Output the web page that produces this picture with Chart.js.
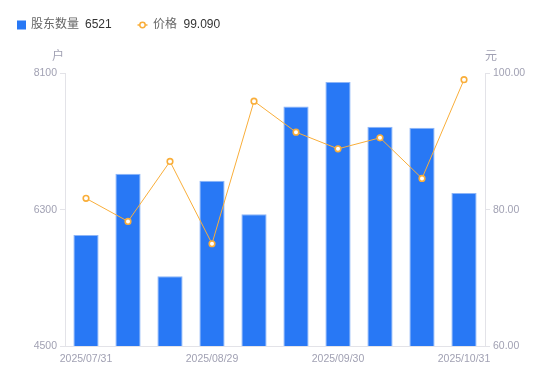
<!DOCTYPE html>
<html>
<head>
<meta charset="utf-8">
<script src="https://cdn.jsdelivr.net/npm/chart.js@4"></script>
<style>
html,body{margin:0;padding:0;background:#fff;}
#wrap{width:550px;height:381px;position:relative;}
</style>
</head>
<body>
<div id="wrap"><canvas id="c" width="550" height="381"></canvas></div>
<script>
const categories = ['2025/07/31','2025/08/08','2025/08/20','2025/08/29','2025/09/10','2025/09/19','2025/09/30','2025/10/10','2025/10/20','2025/10/31'];
const holders = [5965, 6774, 5420, 6682, 6242, 7664, 7989, 7395, 7382, 6521];
const prices = [81.67, 78.29, 87.09, 75.01, 95.94, 91.39, 88.94, 90.56, 84.60, 99.09];
const leftTicks = [4500, 6300, 8100];
const rightTicks = [60, 80, 100];
const seriesNames = ['股东数量', '价格'];
const unitLeft = '户';
const unitRight = '元';

const BLUE = '#2878F5';
const ORANGE = '#F9AE3A';
const TICK = '#a1a1b3';
const AXIS = '#e3e3e8';
const FONT = '"Liberation Sans", "Noto Sans CJK SC", Arial, sans-serif';

const overlay = {
  id: 'overlay',
  afterDraw(chart) {
    const ctx = chart.ctx;
    const yl = chart.scales.y, yr = chart.scales.y1;
    ctx.save();
    ctx.textBaseline = 'middle';
    // units
    ctx.font = '12px ' + FONT;
    ctx.fillStyle = TICK;
    ctx.textAlign = 'right';
    ctx.fillText(unitLeft, yl.right - 1, 57);
    ctx.textAlign = 'left';
    ctx.fillText(unitRight, yr.left + 0, 57);
    // legend
    ctx.textAlign = 'left';
    ctx.fillStyle = BLUE;
    ctx.fillRect(17, 20.5, 9, 9);
    ctx.font = '12px ' + FONT;
    ctx.fillStyle = '#666';
    ctx.fillText(seriesNames[0], 31, 25);
    ctx.fillStyle = '#333';
    ctx.fillText(String(holders[holders.length - 1]), 85, 25);
    ctx.strokeStyle = ORANGE;
    ctx.lineWidth = 1.5;
    ctx.beginPath(); ctx.moveTo(137.5, 25); ctx.lineTo(147.5, 25); ctx.stroke();
    ctx.fillStyle = '#fff';
    ctx.beginPath(); ctx.arc(142.5, 25, 2.7, 0, Math.PI * 2); ctx.fill(); ctx.stroke();
    ctx.fillStyle = '#666';
    ctx.fillText(seriesNames[1], 153, 25);
    ctx.fillStyle = '#333';
    ctx.fillText(prices[prices.length - 1].toFixed(3), 183.5, 25);
    ctx.restore();
  }
};

new Chart(document.getElementById('c'), {
  data: {
    labels: categories,
    datasets: [
      {
        type: 'line', label: seriesNames[1], data: prices, yAxisID: 'y1',
        borderColor: ORANGE, borderWidth: 1, tension: 0,
        pointRadius: 2.8, pointBorderWidth: 1.6, pointBackgroundColor: '#fff', pointBorderColor: ORANGE,
        order: 0
      },
      {
        type: 'bar', label: seriesNames[0], data: holders, yAxisID: 'y',
        backgroundColor: BLUE, borderColor: '#8db5f7', borderWidth: {top:1,left:1,right:1,bottom:0},
        categoryPercentage: 0.6, barPercentage: 1.0,
        order: 1
      }
    ]
  },
  options: {
    responsive: false,
    animation: false,
    layout: { padding: { top: 73.5, left: 0, right: 0, bottom: 0 } },
    plugins: { legend: { display: false }, tooltip: { enabled: false } },
    scales: {
      x: {
        type: 'category', offset: true,
        grid: { display: false, drawTicks: false },
        border: { display: true, color: AXIS },
        ticks: {
          autoSkip: false, maxRotation: 0, padding: 7,
          color: TICK, font: { size: 10.5, family: FONT },
          callback: function (v, i) { return i % 3 === 0 ? categories[i] : ''; }
        },
        afterFit: s => { s.height = 35; }
      },
      y: {
        position: 'left', min: leftTicks[0], max: leftTicks[leftTicks.length - 1],
        afterBuildTicks: s => { s.ticks = leftTicks.map(v => ({ value: v })); },
        grid: { drawOnChartArea: false, drawTicks: true, tickLength: 5, color: AXIS },
        border: { display: true, color: AXIS },
        ticks: { color: TICK, padding: 3, font: { size: 10.5, family: FONT }, callback: v => String(v) },
        afterFit: s => { s.width = 65; }
      },
      y1: {
        position: 'right', min: rightTicks[0], max: rightTicks[rightTicks.length - 1],
        afterBuildTicks: s => { s.ticks = rightTicks.map(v => ({ value: v })); },
        grid: { drawOnChartArea: false, drawTicks: true, tickLength: 5, color: AXIS },
        border: { display: true, color: AXIS },
        ticks: { color: TICK, padding: 3, font: { size: 10.5, family: FONT }, callback: v => Number(v).toFixed(2) },
        afterFit: s => { s.width = 65; }
      }
    }
  },
  plugins: [overlay]
});
</script>
</body>
</html>
